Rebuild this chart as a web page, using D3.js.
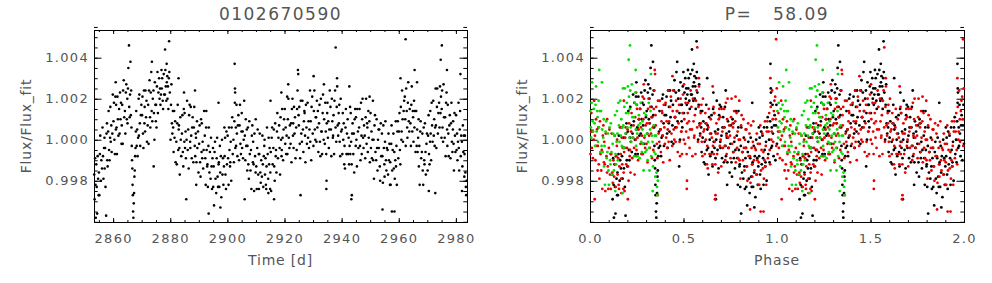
<!DOCTYPE html>
<html>
<head>
<meta charset="utf-8">
<script src="https://d3js.org/d3.v7.min.js"></script>
<style>
body { margin: 0; background: #fff; }
svg text { font-family: "DejaVu Sans", sans-serif; fill: #555; }
</style>
</head>
<body>
<svg id="main" width="992" height="283"></svg>
<script>
var starName = "0102670590";
var period = 58.09;
var epoch = 2846.5;   // phase zero

var fluxTicks = [0.998, 1.000, 1.002, 1.004];
var timeTicks = [2860, 2880, 2900, 2920, 2940, 2960, 2980];
var phaseTicks = [0, 0.5, 1, 1.5, 2];
var cycleColors = ["#000000", "#e80000", "#00dd00"];

// [time, flux], in stretches of ~25 days
var seg1 = [
[2853.38,0.9983],[2853.52,0.9971],[2853.69,0.9991],[2853.84,0.9978],[2853.93,0.9962],
[2854.09,0.9988],[2854.26,0.9977],[2854.41,0.9964],[2854.57,0.9992],[2854.74,0.9981],[2854.93,0.9973],
[2855.02,0.9984],[2855.17,0.9973],[2855.36,0.9993],[2855.49,1.0002],[2855.71,0.9980],[2855.88,0.9990],
[2856.12,0.9986],[2856.28,1.0006],[2856.45,0.9992],[2856.61,0.9981],[2856.79,0.9996],[2856.96,1.0001],
[2857.04,0.9986],[2857.19,0.9996],[2857.33,0.9977],[2857.55,0.9963],[2857.68,1.0003],[2857.85,1.0008],[2857.93,0.9990],
[2858.09,0.9987],[2858.26,1.0004],[2858.41,1.0014],[2858.57,0.9995],[2858.74,0.9990],[2858.93,1.0001],
[2859.02,1.0016],[2859.17,0.9999],[2859.36,1.0007],[2859.49,0.9994],[2859.71,1.0003],[2859.88,1.0022],
[2860.12,1.0009],[2860.28,1.0018],[2860.45,1.0000],[2860.61,0.9993],[2860.79,1.0021],[2860.90,1.0028],[2860.96,1.0005],
[2861.04,1.0017],[2861.19,1.0006],[2861.33,0.9993],[2861.52,1.0021],[2861.68,1.0010],[2861.85,1.0002],
[2862.09,1.0015],[2862.26,1.0003],[2862.41,1.0023],[2862.57,1.0010],[2862.74,1.0018],[2862.93,0.9998],
[2863.02,1.0007],[2863.17,1.0017],[2863.36,0.9998],[2863.49,1.0024],[2863.71,1.0029],[2863.88,1.0011],
[2864.12,1.0014],[2864.28,1.0003],[2864.45,1.0023],[2864.61,1.0027],[2864.79,1.0010],[2864.96,1.0020],
[2865.04,1.0008],[2865.19,1.0025],[2865.33,1.0035],[2865.55,1.0046],[2865.62,1.0016],[2865.78,1.0011],[2865.92,1.0022],
[2866.06,1.0038],[2866.18,1.0012],[2866.30,1.0024],[2866.42,1.0006],
[2866.52,0.9997],[2866.62,0.9990],[2866.72,0.9986],[2866.81,0.9978],[2866.90,0.9973],[2867.00,0.9965],[2867.10,0.9962],
[2867.22,0.9969],[2867.33,0.9974],[2867.45,0.9982],[2867.57,0.9985],[2867.70,0.9992],[2867.84,0.9996],[2867.95,1.0004],
[2868.09,1.0014],[2868.26,0.9997],[2868.41,1.0005],[2868.57,0.9992],[2868.74,1.0001],[2868.93,1.0020],
[2869.02,1.0002],[2869.17,1.0022],[2869.36,1.0008],[2869.49,0.9997],[2869.71,1.0012],[2869.88,1.0017],
[2870.12,1.0012],[2870.28,1.0021],[2870.45,1.0003],[2870.61,0.9996],[2870.79,1.0024],[2870.96,1.0008],
[2871.04,1.0016],[2871.19,1.0004],[2871.33,1.0024],[2871.52,1.0011],[2871.68,1.0019],[2871.85,0.9999],
[2872.09,1.0007],[2872.26,1.0017],[2872.41,0.9998],[2872.57,1.0024],[2872.74,1.0029],[2872.93,1.0011],
[2873.02,1.0006],[2873.17,1.0023],[2873.36,1.0033],[2873.49,1.0014],[2873.58,1.0038],[2873.71,1.0009],[2873.88,1.0020],
[2874.12,1.0024],[2874.20,0.9987],[2874.28,1.0013],[2874.45,1.0000],[2874.61,1.0028],[2874.79,1.0017],[2874.96,1.0009],
[2875.04,1.0017],[2875.19,1.0006],[2875.33,1.0026],[2875.52,1.0033],[2875.68,1.0013],[2875.85,1.0023],
[2876.09,1.0030],[2876.26,1.0020],[2876.41,1.0025],[2876.57,1.0017],[2876.74,1.0022],[2876.93,1.0034],
[2877.02,1.0025],[2877.17,1.0030],[2877.36,1.0019],[2877.49,1.0015],[2877.71,1.0032],[2877.88,1.0022],
[2878.12,1.0022],[2878.18,1.0044],[2878.28,1.0034],[2878.45,1.0026],[2878.61,1.0019],[2878.74,1.0037],[2878.79,1.0028],[2878.96,1.0031],
[2879.04,1.0020],[2879.19,1.0026],[2879.33,1.0015],[2879.52,1.0030],[2879.60,1.0048],[2879.68,1.0033],[2879.85,1.0023]
];
var seg2 = [
[2880.09,1.0000],[2880.26,1.0017],[2880.41,1.0027],[2880.57,1.0008],[2880.74,1.0003],[2880.93,1.0014],
[2881.02,1.0006],[2881.17,0.9994],[2881.36,1.0014],[2881.49,1.0001],[2881.71,1.0009],[2881.88,0.9989],
[2882.12,0.9999],[2882.28,0.9988],[2882.45,1.0008],[2882.61,1.0017],[2882.79,0.9995],[2882.90,1.0030],[2882.96,1.0005],
[2883.04,1.0007],[2883.19,0.9996],[2883.33,0.9983],[2883.52,1.0011],[2883.68,1.0000],[2883.85,0.9992],
[2884.09,1.0003],[2884.26,1.0012],[2884.41,0.9994],[2884.57,0.9987],[2884.74,1.0015],[2884.82,1.0023],[2884.93,0.9999],
[2885.02,1.0013],[2885.17,0.9996],[2885.36,1.0004],[2885.49,0.9991],[2885.60,0.9971],[2885.71,1.0000],[2885.88,1.0019],
[2886.12,0.9995],[2886.28,1.0005],[2886.45,0.9986],[2886.61,1.0012],[2886.79,1.0017],[2886.96,0.9999],
[2887.04,0.9996],[2887.19,1.0016],[2887.33,1.0002],[2887.52,0.9991],[2887.68,1.0006],[2887.85,1.0011],
[2888.09,0.9989],[2888.26,1.0006],[2888.41,1.0016],[2888.57,0.9997],[2888.66,1.0024],[2888.74,0.9992],[2888.93,1.0003],
[2889.02,1.0001],[2889.10,0.9978],[2889.17,0.9989],[2889.36,1.0009],[2889.49,0.9996],[2889.71,1.0004],[2889.88,0.9984],
[2890.12,0.9998],[2890.28,1.0007],[2890.45,0.9989],[2890.61,0.9982],[2890.79,1.0010],[2890.96,0.9994],
[2891.04,1.0008],[2891.19,0.9991],[2891.33,0.9999],[2891.52,0.9986],[2891.68,0.9995],[2891.85,1.0014],
[2892.09,1.0002],[2892.26,0.9991],[2892.41,0.9978],[2892.57,1.0006],[2892.62,1.0014],[2892.74,0.9995],[2892.93,0.9987],
[2893.02,0.9988],[2893.17,0.9977],[2893.36,0.9997],[2893.45,0.9964],[2893.49,1.0006],[2893.71,0.9984],[2893.88,0.9994],
[2894.12,0.9981],[2894.28,1.0001],[2894.45,0.9987],[2894.61,0.9976],[2894.79,0.9991],[2894.96,0.9996],
[2895.04,0.9977],[2895.19,0.9987],[2895.33,0.9968],[2895.52,0.9994],[2895.68,0.9999],[2895.85,0.9981],
[2896.09,0.9974],[2896.26,0.9991],[2896.41,1.0001],[2896.57,0.9982],[2896.74,0.9977],[2896.90,1.0018],[2896.93,0.9988],
[2897.02,0.9989],[2897.17,0.9977],[2897.36,0.9997],[2897.49,0.9984],[2897.55,0.9967],[2897.71,0.9992],[2897.88,0.9972],
[2898.12,1.0000],[2898.28,0.9983],[2898.45,0.9991],[2898.61,0.9978],[2898.79,0.9987],[2898.96,1.0006],
[2899.04,0.9992],[2899.19,1.0001],[2899.33,0.9983],[2899.52,0.9976],[2899.68,1.0004],[2899.85,0.9988],
[2900.09,1.0002],[2900.26,0.9991],[2900.41,0.9978],[2900.57,1.0006],[2900.74,0.9995],[2900.93,0.9987],
[2901.02,0.9989],[2901.17,0.9999],[2901.36,0.9980],[2901.49,1.0006],[2901.71,1.0011],[2901.88,0.9993],
[2902.12,1.0000],[2902.28,0.9989],[2902.45,1.0009],[2902.55,1.0037],[2902.61,1.0018],[2902.66,1.0025],[2902.72,1.0023],[2902.79,0.9996],[2902.96,1.0006],
[2903.04,0.9997],[2903.19,1.0017],[2903.33,1.0003],[2903.52,0.9992],[2903.68,1.0007],[2903.85,1.0012],
[2904.09,0.9990],[2904.26,1.0007],[2904.41,1.0017],[2904.57,0.9998],[2904.74,0.9993],[2904.93,1.0004]
];
var seg3 = [
[2905.02,1.0013],[2905.17,0.9996],[2905.36,1.0004],[2905.49,0.9991],[2905.71,1.0000],[2905.88,1.0019],
[2906.05,0.9971],[2906.12,1.0002],[2906.28,0.9990],[2906.45,1.0010],[2906.61,0.9997],[2906.79,1.0005],[2906.96,0.9985],
[2907.04,0.9997],[2907.19,1.0006],[2907.33,0.9988],[2907.52,0.9981],[2907.68,1.0009],[2907.85,0.9993],
[2908.09,0.9985],[2908.26,0.9995],[2908.41,0.9976],[2908.57,1.0002],[2908.74,1.0007],[2908.93,0.9989],
[2909.02,0.9999],[2909.17,0.9988],[2909.36,0.9975],[2909.49,1.0003],[2909.71,0.9992],[2909.88,0.9984],[2909.92,1.0010],
[2910.12,0.9987],[2910.28,0.9976],[2910.45,0.9996],[2910.61,1.0005],[2910.79,0.9983],[2910.96,0.9993],
[2911.04,0.9976],[2911.19,0.9993],[2911.33,1.0003],[2911.52,0.9984],[2911.68,0.9979],[2911.85,0.9990],
[2912.09,0.9982],[2912.26,1.0002],[2912.41,0.9988],[2912.57,0.9977],[2912.74,0.9992],[2912.93,0.9997],
[2913.02,1.0000],[2913.17,0.9983],[2913.36,0.9991],[2913.49,0.9978],[2913.60,0.9976],[2913.71,0.9987],[2913.88,1.0006],
[2914.12,0.9993],[2914.28,0.9981],[2914.35,0.9974],[2914.45,1.0001],[2914.61,0.9988],[2914.79,0.9996],[2914.96,0.9976],
[2915.04,0.9984],[2915.10,1.0019],[2915.19,0.9994],[2915.33,0.9975],[2915.52,1.0001],[2915.68,1.0006],[2915.85,0.9988],
[2916.09,0.9996],[2916.26,1.0005],[2916.35,0.9971],[2916.41,0.9987],[2916.57,0.9980],[2916.74,1.0008],[2916.93,0.9992],
[2917.02,0.9995],[2917.17,0.9984],[2917.36,1.0004],[2917.49,1.0013],[2917.71,0.9991],[2917.88,1.0001],
[2918.12,1.0007],[2918.28,0.9996],[2918.45,0.9983],[2918.61,1.0011],[2918.79,1.0000],[2918.90,1.0023],[2918.96,0.9992],
[2919.04,0.9995],[2919.19,1.0015],[2919.33,1.0001],[2919.52,0.9990],[2919.68,1.0005],[2919.85,1.0010],
[2920.09,1.0015],[2920.26,0.9998],[2920.41,1.0006],[2920.57,0.9993],[2920.74,1.0002],[2920.93,1.0021],
[2921.02,0.9993],[2921.17,1.0010],[2921.30,1.0027],[2921.36,1.0020],[2921.49,1.0001],[2921.71,0.9996],[2921.88,1.0007],
[2922.12,0.9998],[2922.28,1.0008],[2922.45,0.9989],[2922.61,1.0015],[2922.79,1.0020],[2922.96,1.0002],
[2923.04,1.0008],[2923.19,0.9996],[2923.33,1.0016],[2923.52,1.0003],[2923.68,1.0011],[2923.85,0.9991],
[2924.09,1.0006],[2924.26,0.9995],[2924.41,1.0015],[2924.57,1.0024],[2924.70,1.0034],[2924.80,1.0032],[2924.93,1.0012],
[2925.02,1.0007],[2925.17,1.0016],[2925.36,0.9998],[2925.49,0.9991],[2925.62,0.9973],[2925.71,1.0019],[2925.88,1.0003],
[2926.12,0.9999],[2926.28,1.0019],[2926.45,1.0005],[2926.61,0.9994],[2926.79,1.0009],[2926.96,1.0014],
[2927.04,1.0013],[2927.19,1.0002],[2927.33,0.9989],[2927.52,1.0017],[2927.68,1.0006],[2927.85,0.9998],
[2928.09,1.0018],[2928.26,1.0001],[2928.41,1.0009],[2928.57,0.9996],[2928.74,1.0005],[2928.93,1.0024],
[2929.02,0.9999],[2929.17,1.0009],[2929.36,0.9990],[2929.49,1.0016],[2929.71,1.0021],[2929.88,1.0003]
];
var seg4 = [
[2930.12,0.9997],[2930.20,1.0031],[2930.28,1.0014],[2930.45,1.0024],[2930.61,1.0005],[2930.79,1.0000],[2930.96,1.0011],
[2931.04,1.0011],[2931.19,0.9999],[2931.33,1.0019],[2931.52,1.0006],[2931.68,1.0014],[2931.85,0.9994],
[2932.09,1.0008],[2932.26,1.0017],[2932.41,0.9999],[2932.57,0.9992],[2932.74,1.0020],[2932.93,1.0004],
[2933.02,1.0004],[2933.17,0.9993],[2933.36,1.0013],[2933.49,1.0022],[2933.71,1.0000],[2933.80,1.0027],[2933.88,1.0010],
[2934.12,0.9998],[2934.28,1.0018],[2934.45,1.0004],[2934.61,0.9993],[2934.66,0.9976],[2934.72,0.9980],[2934.79,1.0008],[2934.96,1.0013],
[2935.04,1.0018],[2935.19,1.0001],[2935.33,1.0009],[2935.52,0.9996],[2935.68,1.0005],[2935.85,1.0024],
[2936.09,1.0016],[2936.26,1.0005],[2936.41,0.9992],[2936.57,1.0020],[2936.74,1.0009],[2936.93,1.0001],
[2937.02,1.0002],[2937.17,1.0012],[2937.36,0.9993],[2937.49,1.0019],[2937.71,1.0024],[2937.88,1.0006],[2937.92,1.0045],
[2938.12,0.9999],[2938.28,1.0016],[2938.40,1.0030],[2938.45,1.0026],[2938.61,1.0007],[2938.79,1.0002],[2938.96,1.0013],
[2939.04,1.0008],[2939.19,1.0017],[2939.33,0.9999],[2939.52,0.9992],[2939.68,1.0020],[2939.85,1.0004],
[2940.09,1.0005],[2940.26,0.9993],[2940.41,1.0013],[2940.57,1.0000],[2940.74,1.0008],[2940.93,0.9988],
[2941.02,0.9997],[2941.17,0.9986],[2941.36,1.0006],[2941.49,1.0015],[2941.71,0.9993],[2941.88,1.0003],
[2942.12,1.0010],[2942.28,0.9993],[2942.45,1.0001],[2942.61,0.9988],[2942.70,1.0026],[2942.79,0.9997],[2942.96,1.0016],
[2943.04,0.9993],[2943.19,1.0013],[2943.33,0.9999],[2943.40,0.9971],[2943.52,0.9988],[2943.57,0.9973],[2943.68,1.0003],[2943.85,1.0008],
[2944.09,0.9993],[2944.26,1.0003],[2944.41,0.9984],[2944.57,1.0010],[2944.74,1.0015],[2944.93,0.9997],
[2945.02,1.0011],[2945.17,1.0000],[2945.36,0.9987],[2945.49,1.0015],[2945.71,1.0004],[2945.88,0.9996],
[2946.12,1.0006],[2946.28,1.0015],[2946.45,0.9997],[2946.61,0.9990],[2946.79,1.0018],[2946.96,1.0002],
[2947.04,0.9993],[2947.19,1.0010],[2947.33,1.0020],[2947.52,1.0001],[2947.68,0.9996],[2947.85,1.0007],
[2948.09,1.0002],[2948.26,0.9991],[2948.41,1.0011],[2948.57,1.0020],[2948.74,0.9998],[2948.93,1.0008],
[2949.02,1.0006],[2949.17,0.9994],[2949.36,1.0014],[2949.49,1.0001],[2949.71,1.0009],[2949.80,1.0021],[2949.88,0.9989],
[2950.12,1.0013],[2950.28,0.9996],[2950.45,1.0004],[2950.61,0.9991],[2950.79,1.0000],[2950.96,1.0019],
[2951.04,0.9990],[2951.19,1.0000],[2951.33,0.9981],[2951.52,1.0007],[2951.68,1.0012],[2951.85,0.9994],
[2952.09,0.9990],[2952.26,1.0010],[2952.41,0.9996],[2952.57,0.9985],[2952.74,1.0000],[2952.93,1.0005],
[2953.02,0.9996],[2953.17,1.0005],[2953.36,0.9987],[2953.49,0.9980],[2953.71,1.0008],[2953.88,0.9992],
[2954.12,1.0003],[2954.28,0.9992],[2954.32,0.9966],[2954.45,0.9979],[2954.61,1.0007],[2954.79,0.9996],[2954.96,0.9988],
[2955.04,0.9982],[2955.19,0.9999],[2955.33,1.0009],[2955.52,0.9990],[2955.68,0.9985],[2955.85,0.9996]
];
var seg5 = [
[2956.09,0.9995],[2956.26,0.9983],[2956.41,1.0003],[2956.57,0.9990],[2956.74,0.9998],[2956.93,0.9978],
[2957.02,0.9989],[2957.17,0.9978],[2957.36,0.9998],[2957.49,1.0007],[2957.60,0.9965],[2957.71,0.9985],[2957.88,0.9995],
[2958.12,1.0003],[2958.28,0.9986],[2958.45,0.9994],[2958.50,0.9965],[2958.61,0.9981],[2958.79,0.9990],[2958.96,1.0009],
[2959.04,0.9987],[2959.19,0.9997],[2959.33,0.9978],[2959.52,1.0004],[2959.68,1.0009],[2959.85,0.9991],
[2960.09,1.0004],[2960.26,1.0013],[2960.41,0.9995],[2960.57,0.9988],[2960.62,1.0030],[2960.74,1.0016],[2960.93,1.0000],
[2961.02,1.0004],[2961.17,1.0024],[2961.36,1.0010],[2961.49,0.9999],[2961.71,1.0014],[2961.88,1.0019],
[2962.12,1.0021],[2962.28,1.0010],[2962.40,1.0049],[2962.45,0.9997],[2962.61,1.0025],[2962.79,1.0014],[2962.96,1.0006],
[2963.04,1.0001],[2963.19,1.0018],[2963.33,1.0028],[2963.52,1.0009],[2963.68,1.0004],[2963.85,1.0015],
[2964.09,1.0008],[2964.26,0.9997],[2964.41,1.0017],[2964.57,1.0026],[2964.74,1.0004],[2964.93,1.0014],
[2965.02,1.0011],[2965.17,0.9999],[2965.36,1.0019],[2965.49,1.0006],[2965.55,1.0034],[2965.71,1.0014],[2965.88,0.9994],
[2966.12,1.0014],[2966.28,0.9997],[2966.40,1.0028],[2966.45,1.0005],[2966.61,0.9994],[2966.79,1.0001],[2966.96,1.0010],
[2967.04,0.9987],[2967.19,0.9997],[2967.33,0.9978],[2967.52,1.0004],[2967.68,1.0009],[2967.85,0.9991],
[2968.09,0.9994],[2968.26,1.0003],[2968.41,0.9985],[2968.57,0.9978],[2968.74,1.0006],[2968.93,0.9990],
[2969.02,0.9988],[2969.17,1.0008],[2969.36,0.9994],[2969.49,0.9983],[2969.71,0.9998],[2969.88,1.0003],
[2970.12,0.9985],[2970.28,1.0002],[2970.45,1.0012],[2970.53,0.9975],[2970.61,0.9993],[2970.79,0.9988],[2970.96,0.9999],
[2971.04,1.0014],[2971.19,1.0003],[2971.33,0.9990],[2971.52,1.0018],[2971.68,1.0007],[2971.85,0.9999],
[2972.09,1.0019],[2972.26,1.0002],[2972.41,1.0010],[2972.57,0.9997],[2972.74,1.0006],[2972.80,0.9974],[2972.93,1.0025],
[2973.02,1.0007],[2973.17,0.9996],[2973.36,1.0016],[2973.49,1.0025],[2973.71,1.0003],[2973.88,1.0013],
[2974.12,1.0018],[2974.28,1.0006],[2974.45,1.0026],[2974.61,1.0013],[2974.70,1.0039],[2974.79,1.0021],[2974.96,1.0001],
[2975.04,1.0015],[2975.10,1.0046],[2975.19,1.0024],[2975.33,1.0006],[2975.52,0.9999],[2975.68,1.0027],[2975.85,1.0011],
[2976.09,1.0001],[2976.26,1.0011],[2976.41,0.9992],[2976.57,1.0018],[2976.74,1.0023],[2976.88,1.0034],[2976.93,1.0005],
[2977.02,0.9997],[2977.17,1.0017],[2977.36,1.0003],[2977.49,0.9992],[2977.71,1.0007],[2977.88,1.0012],
[2978.12,0.9991],[2978.28,1.0008],[2978.45,1.0018],[2978.61,0.9999],[2978.79,0.9994],[2978.96,1.0005],
[2979.04,1.0009],[2979.19,0.9998],[2979.33,0.9985],[2979.52,1.0013],[2979.68,1.0002],[2979.85,0.9994],
[2980.09,1.0012],[2980.26,0.9995],[2980.41,1.0003],[2980.57,0.9990],[2980.74,0.9999],[2980.93,1.0018],
[2981.02,0.9996],[2981.17,0.9985],[2981.36,1.0005],[2981.49,1.0014],[2981.60,1.0032],[2981.71,0.9992],[2981.88,1.0002],
[2982.12,0.9999],[2982.15,0.9975],[2982.28,0.9987],[2982.45,1.0007],[2982.61,0.9994],[2982.79,1.0002],[2982.96,0.9982],
[2983.04,0.9993],[2983.19,1.0002],[2983.33,0.9984],[2983.50,0.9977],[2983.62,0.9973],[2983.75,0.9980]
];

var lightCurve = seg1.concat(seg2, seg3, seg4, seg5);

// fold on the period, every point shown twice (phase and phase+1)
var folded = [];
lightCurve.forEach(function(d) {
    var e = (d[0] - epoch) / period;
    var cycle = Math.floor(e);
    var ph = e - cycle;
    folded.push({ph: ph, f: d[1], c: cycle});
    folded.push({ph: ph + 1, f: d[1], c: cycle});
});
folded.sort(function(a, b) { return a.c - b.c; });

var svg = d3.select("#main");
var plotTop = 30, plotBottom = 222;

var yFlux = d3.scaleLinear().domain([0.99599, 1.00535]).range([plotBottom, plotTop]);
var xTime = d3.scaleLinear().domain([2853.3, 2983.9]).range([94, 467]);
var xPhase = d3.scaleLinear().domain([0, 2]).range([590, 964]);

var fluxMinor = d3.range(0, 20).map(function(i) { return 0.9960 + i * 0.0005; });
var timeMinor = d3.range(2855, 2985, 5);
var phaseMinor = d3.range(0, 21).map(function(i) { return i / 10; });

function styleText(g, size) {
    g.attr("font-family", null).attr("font-size", null);
    g.selectAll("text")
        .attr("font-size", size + "px")
        .attr("letter-spacing", "1.3px")
        .attr("fill", "#555");
}

function drawFrame(x, y, xMajor, xMinor, xFmt, labelX) {
    var x0 = x.range()[0], x1 = x.range()[1];
    var none = function() { return ""; };

    var g = svg.append("g").attr("transform", "translate(0," + plotBottom + ")")
        .call(d3.axisBottom(x).tickValues(xMajor).tickSize(-4).tickPadding(11.5).tickFormat(xFmt));
    g.select(".domain").remove();
    styleText(g, 13);
    svg.append("g").attr("transform", "translate(0," + plotBottom + ")")
        .call(d3.axisBottom(x).tickValues(xMinor).tickSize(-2).tickFormat(none))
        .select(".domain").remove();
    svg.append("g").attr("transform", "translate(0," + plotTop + ")")
        .call(d3.axisTop(x).tickValues(xMajor).tickSize(-4).tickFormat(none))
        .select(".domain").remove();
    svg.append("g").attr("transform", "translate(0," + plotTop + ")")
        .call(d3.axisTop(x).tickValues(xMinor).tickSize(-2).tickFormat(none))
        .select(".domain").remove();

    var gl = svg.append("g").attr("transform", "translate(" + x0 + ",0)")
        .call(d3.axisLeft(y).tickValues(fluxTicks).tickSize(-7.5).tickPadding(5).tickFormat(d3.format(".3f")));
    gl.select(".domain").remove();
    styleText(gl, 13);
    svg.append("g").attr("transform", "translate(" + x0 + ",0)")
        .call(d3.axisLeft(y).tickValues(fluxMinor).tickSize(-3.7).tickFormat(none))
        .select(".domain").remove();
    svg.append("g").attr("transform", "translate(" + x1 + ",0)")
        .call(d3.axisRight(y).tickValues(fluxTicks).tickSize(-7.5).tickFormat(none))
        .select(".domain").remove();
    svg.append("g").attr("transform", "translate(" + x1 + ",0)")
        .call(d3.axisRight(y).tickValues(fluxMinor).tickSize(-3.7).tickFormat(none))
        .select(".domain").remove();

    svg.append("rect")
        .attr("x", x0 + 0.5).attr("y", plotTop + 0.5)
        .attr("width", x1 - x0).attr("height", plotBottom - plotTop)
        .attr("fill", "none").attr("stroke", "#000").attr("stroke-width", 1);

    svg.append("text")
        .attr("transform", "translate(" + labelX + "," + ((plotTop + plotBottom) / 2) + ") rotate(-90)")
        .attr("y", 5)
        .attr("text-anchor", "middle")
        .attr("font-size", "14px")
        .attr("letter-spacing", "0.8px")
        .text("Flux/Flux_fit");
}

// left: light curve
drawFrame(xTime, yFlux, timeTicks, timeMinor, d3.format("d"), 26);
svg.append("g").selectAll("circle")
    .data(lightCurve)
    .enter().append("circle")
    .attr("cx", function(d) { return xTime(d[0]); })
    .attr("cy", function(d) { return yFlux(d[1]); })
    .attr("r", 1.3)
    .attr("fill", "#000");

// right: folded
drawFrame(xPhase, yFlux, phaseTicks, phaseMinor, d3.format(".1f"), 522);
svg.append("g").selectAll("circle")
    .data(folded)
    .enter().append("circle")
    .attr("cx", function(d) { return xPhase(d.ph); })
    .attr("cy", function(d) { return yFlux(d.f); })
    .attr("r", 1.4)
    .attr("fill", function(d) { return cycleColors[d.c] || "#00dd00"; });

// titles and x labels
svg.append("text").attr("x", 280.5).attr("y", 20)
    .attr("text-anchor", "middle").attr("font-size", "17px").attr("letter-spacing", "1.5px")
    .text(starName);
svg.append("text").attr("x", 777).attr("y", 20)
    .attr("text-anchor", "middle").attr("font-size", "17px").attr("letter-spacing", "1.5px")
    .attr("xml:space", "preserve").style("white-space", "pre")
    .text("P=   " + period.toFixed(2));
svg.append("text").attr("x", 280.5).attr("y", 265)
    .attr("text-anchor", "middle").attr("font-size", "14px").attr("letter-spacing", "0.8px")
    .text("Time [d]");
svg.append("text").attr("x", 777).attr("y", 265)
    .attr("text-anchor", "middle").attr("font-size", "14px").attr("letter-spacing", "0.8px")
    .text("Phase");
</script>
</body>
</html>
